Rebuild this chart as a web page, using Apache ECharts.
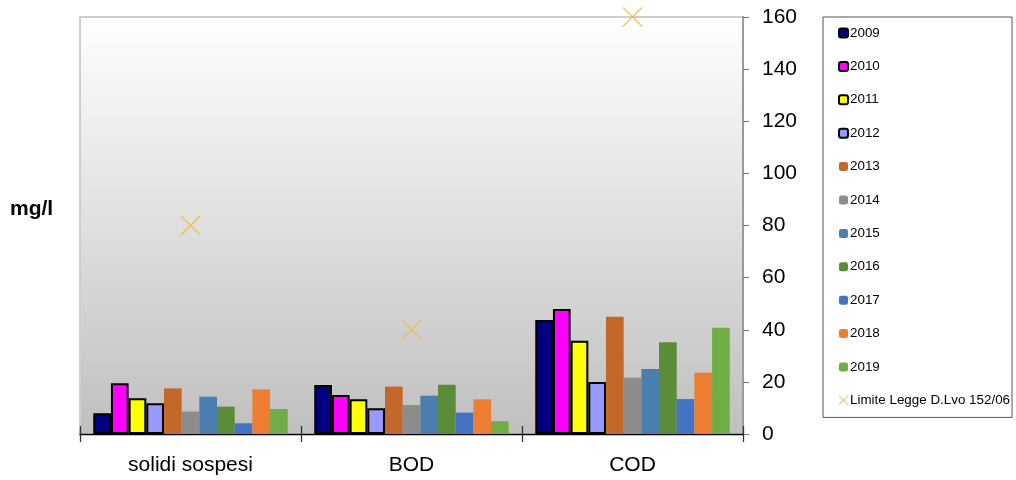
<!DOCTYPE html>
<html>
<head>
<meta charset="utf-8">
<script src="https://cdn.jsdelivr.net/npm/echarts@6/dist/echarts.min.js"></script>
<style>
  html, body { margin: 0; padding: 0; background: #ffffff; }
  #chart { width: 1016px; height: 480px; }
</style>
</head>
<body>
<div id="chart"></div>
<script>
// Parameters measured at the plant outlet (mg/l)
const categories = ['solidi sospesi', 'BOD', 'COD'];
const years = ['2009', '2010', '2011', '2012', '2013', '2014', '2015', '2016', '2017', '2018', '2019'];

const v2009 = [8, 18.8, 43.7];
const v2010 = [19.5, 15, 48];
const v2011 = [13.7, 13.3, 35.8];
const v2012 = [11.8, 9.9, 20];
const v2013 = [17.5, 18.2, 45];
const v2014 = [8.6, 11.1, 21.6];
const v2015 = [14.3, 14.7, 24.9];
const v2016 = [10.5, 18.9, 35.2];
const v2017 = [4.1, 8.2, 13.4];
const v2018 = [17.1, 13.3, 23.5];
const v2019 = [9.6, 4.9, 40.8];

const limitName = 'Limite Legge D.Lvo 152/06';
const limitValues = [80, 40, 160];

const yMin = 0, yMax = 160, yStep = 20;

const yearValues = [v2009, v2010, v2011, v2012, v2013, v2014, v2015, v2016, v2017, v2018, v2019];
const yearColors = ['#000080', '#ff00ff', '#ffff00', '#9999ff', '#c4672a', '#8c8c8c',
                    '#4a7fb0', '#5a8c3a', '#4472c4', '#ed7d31', '#70ad47'];
const outlined = [true, true, true, true, false, false, false, false, false, false, false];

const FONT = '"Liberation Sans", Arial, sans-serif';

const barSeries = years.map((y, i) => ({
  name: y,
  type: 'bar',
  xAxisIndex: 0,
  yAxisIndex: 0,
  data: yearValues[i],
  barGap: '0%',
  barCategoryGap: '12%',
  itemStyle: outlined[i]
    ? { color: yearColors[i], borderColor: '#000000', borderWidth: 2 }
    : { color: yearColors[i], borderWidth: 0 }
}));

// Legal limit drawn as an "x" marker in the middle of each group
const limitSeries = {
  name: limitName,
  type: 'scatter',
  xAxisIndex: 0,
  yAxisIndex: 0,
  data: limitValues,
  symbol: 'path://M0,0L10,10M10,0L0,10',
  symbolSize: 19,
  itemStyle: { color: 'rgba(0,0,0,0)', borderColor: '#e8bc4a', borderWidth: 1.6 },
  z: 5
};

const chart = echarts.init(document.getElementById('chart'), null, { renderer: 'canvas' });

chart.setOption({
  animation: false,
  backgroundColor: '#ffffff',
  textStyle: { fontFamily: FONT },
  grid: {
    left: 80, right: 273, top: 17, bottom: 46,
    show: true,
    borderColor: '#cdcdcd',
    borderWidth: 2,
    backgroundColor: new echarts.graphic.LinearGradient(0, 0, 0, 1, [
      { offset: 0, color: '#ffffff' },
      { offset: 1, color: '#bfbfbf' }
    ])
  },
  legend: {
    orient: 'vertical',
    left: 823,
    top: 17,
    padding: [9, 2, 10, 15],
    itemGap: 19.4,
    itemWidth: 9,
    itemHeight: 9,
    borderColor: '#555555',
    borderWidth: 1,
    backgroundColor: '#ffffff',
    textStyle: { fontFamily: FONT, fontSize: 13.4, color: '#000000', lineHeight: 14, padding: [0, 0, 0, -3] },
    data: years.concat([{ name: limitName, itemStyle: { borderWidth: 1.2 } }])
  },
  xAxis: [
    {
      type: 'category',
      data: categories,
      position: 'bottom',
      axisLine: { show: true, lineStyle: { color: '#000000', width: 1.3 } },
      axisTick: { show: true, length: 8, lineStyle: { color: '#333333', width: 1.3 } },
      axisLabel: { fontFamily: FONT, fontSize: 21, color: '#000000', margin: 21 },
      splitLine: { show: false }
    },
    {
      type: 'category',
      data: categories,
      position: 'bottom',
      axisLine: { show: false },
      axisTick: { show: true, inside: true, length: 8, lineStyle: { color: '#333333', width: 1.3 } },
      axisLabel: { show: false },
      splitLine: { show: false }
    }
  ],
  yAxis: {
    type: 'value',
    position: 'right',
    min: yMin, max: yMax, interval: yStep,
    axisLine: { show: true, lineStyle: { color: '#9a9a9a', width: 2 } },
    axisTick: { show: true, length: 6, lineStyle: { color: '#777777', width: 1 } },
    axisLabel: { fontFamily: FONT, fontSize: 21, color: '#000000', margin: 19 },
    splitLine: { show: false }
  },
  graphic: [
    {
      type: 'text',
      left: 10,
      top: 199,
      style: { text: 'mg/l', font: 'bold 21px ' + FONT, fill: '#000000' }
    }
  ],
  series: barSeries.concat([limitSeries])
});
</script>
</body>
</html>
